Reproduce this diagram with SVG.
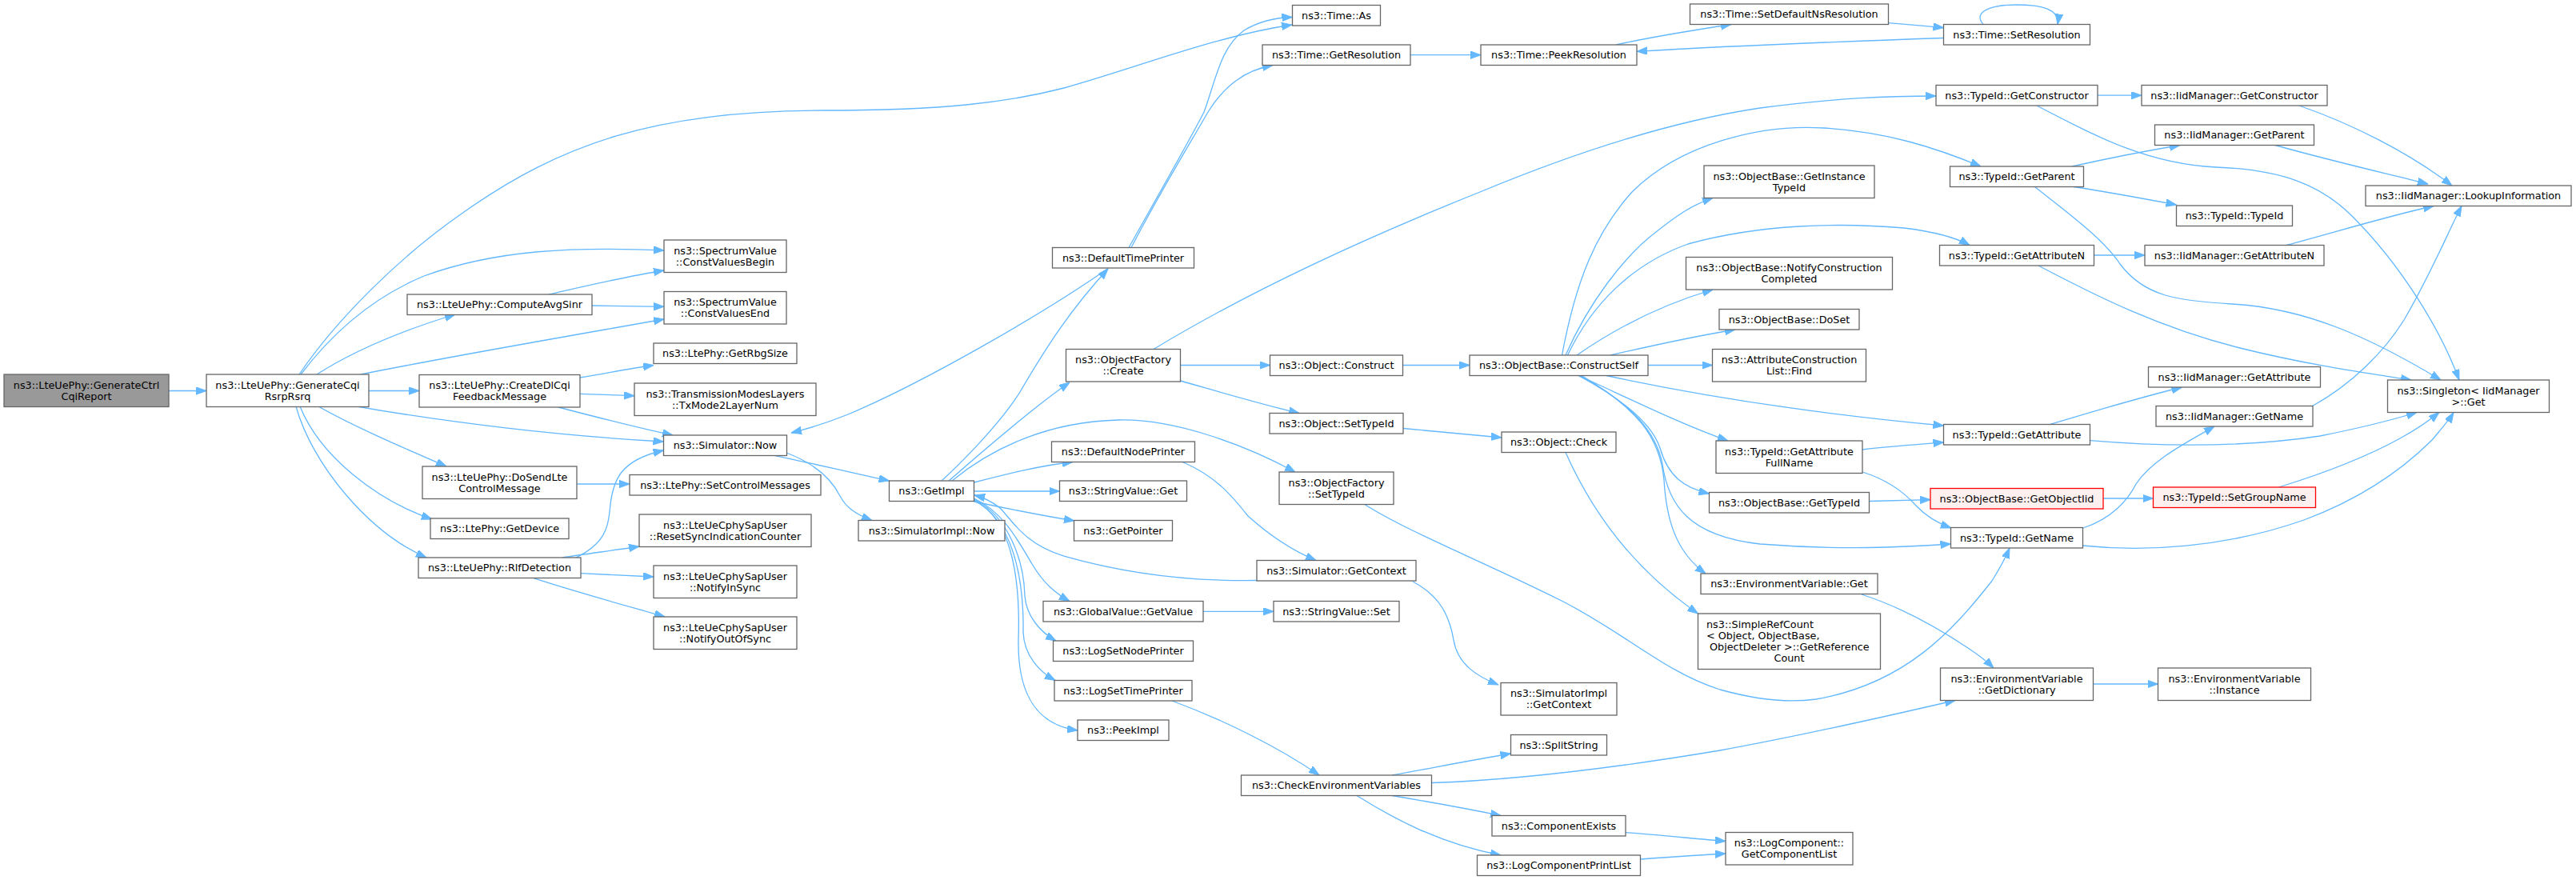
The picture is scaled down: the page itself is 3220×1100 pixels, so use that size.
<svg xmlns="http://www.w3.org/2000/svg" width="3220" height="1100" viewBox="0 0 3220 1100">
<defs>
<style>
.node rect{fill:#ffffff;stroke:#666666;stroke-width:1.3}
.root rect{fill:#999999}
.red rect{fill:#fff0f0;stroke:#ff0000}
text{font-family:"DejaVu Sans","Liberation Sans",sans-serif;font-size:12.8px;text-anchor:middle;fill:#000000}
text.l{text-anchor:start}
#edges path{fill:none;stroke:#63b8ff;stroke-width:1.3;marker-end:url(#ah)}
</style>
<marker id="ah" markerWidth="13" markerHeight="10" refX="13" refY="4.7" orient="auto" markerUnits="userSpaceOnUse">
<path d="M0,0 L13,4.7 L0,9.4 z" fill="#63b8ff" stroke="#63b8ff" stroke-width="1"/>
</marker>
</defs>
<rect x="0" y="0" width="3220" height="1100" fill="#ffffff"/>
<g id="edges">
<path d="M211,488.5 L258,488.5"/>
<path d="M374,468 C420,400 500,320 580,265 C700,180 820,138 1030,138 C1180,138 1260,128 1330,110 C1420,85 1520,45 1615,31"/>
<path d="M376,468 C420,410 470,370 530,345 C620,312 720,308 830,313"/>
<path d="M396,468 C440,440 500,414 569,393"/>
<path d="M451,468 C560,446 700,422 830,399"/>
<path d="M461,488.5 L524,488.5"/>
<path d="M446,508 C560,528 700,545 829.5,552"/>
<path d="M398,508 C440,532 500,558 558,583"/>
<path d="M375,508 C400,570 470,625 540,649"/>
<path d="M370,508 C390,580 460,665 533,697"/>
<path d="M686,368 C730,358 780,346 830,338"/>
<path d="M740,382 C770,382.5 800,383 830,383.3"/>
<path d="M724.5,472 C755,467 786,461 817,456.5"/>
<path d="M725,492.3 L793,494.7"/>
<path d="M698,509 C740,520 790,533 841,544"/>
<path d="M721,605 L787,605"/>
<path d="M720,697 C755,680 760,660 762,640 C765,600 775,575 829.5,563"/>
<path d="M703,697 C735,692 767,688 799,683"/>
<path d="M726,716.7 C756,718 786,719.5 817,721"/>
<path d="M667,722.7 C720,740 775,755 831,771"/>
<path d="M968,569.3 C1010,578 1060,590 1111.5,601"/>
<path d="M983,566 C1020,580 1040,600 1050,620 C1058,635 1070,643 1090,650.5"/>
<path d="M1385,335.5 C1300,395 1150,480 1060,518 C1035,528 1010,536 989,541"/>
<path d="M1177,601 C1200,580 1250,530 1275,490 C1310,430 1340,385 1385,336"/>
<path d="M1186,601 C1210,580 1290,510 1337,478"/>
<path d="M1190,601 C1240,560 1310,527 1398,525 C1470,523 1560,558 1619,590"/>
<path d="M1217.6,603 C1260,592 1300,582 1341,577.5"/>
<path d="M1217.6,614 L1324.5,614"/>
<path d="M1217.6,627 C1260,636 1300,644 1343,651"/>
<path d="M1217.6,623 C1255,640 1275,680 1290,705 C1305,730 1320,742 1337,751.5"/>
<path d="M1217.6,624 C1260,645 1280,700 1281,745 C1283,770 1300,790 1320,801"/>
<path d="M1217.6,625 C1265,650 1280,720 1279,790 C1280,820 1300,840 1319,850.5"/>
<path d="M1217.6,626 C1270,650 1275,740 1273,800 C1272,860 1290,905 1347,913"/>
<path d="M1571,725.5 C1480,727 1400,715 1330,695 C1280,680 1265,650 1250,635 C1240,627 1230,622 1218,619"/>
<path d="M1477,577 C1520,595 1540,620 1560,645 C1590,672 1620,690 1645,700.5"/>
<path d="M1504,764.3 L1592,764.3"/>
<path d="M1465,876 C1530,900 1600,935 1649,969"/>
<path d="M1411,309.5 C1450,240 1490,170 1505,140 C1520,100 1525,60 1555,38 C1575,26 1595,22 1615.5,21.5"/>
<path d="M1414,309.5 C1450,240 1490,175 1510,140 C1530,108 1555,88 1591,81.5"/>
<path d="M1475.5,456.5 L1587.5,456.5"/>
<path d="M1475.5,476 C1525,490 1575,505 1624,516.5"/>
<path d="M1442,436.5 C1560,365 1700,300 1850,240 C1980,186 2100,150 2200,135 C2300,122 2360,120 2420,120"/>
<path d="M1753.5,456.5 L1837,456.5"/>
<path d="M1754,535.5 C1795,539 1836,543 1877,547"/>
<path d="M1705,630 C1760,665 1850,700 1950,750 C2030,790 2080,840 2150,862 C2200,876 2240,878 2270,874 C2380,855 2440,790 2490,726 C2500,710 2507,697 2512,685"/>
<path d="M1766,727 C1800,745 1812,770 1817,800 C1822,830 1845,845 1873,856"/>
<path d="M1740,969 C1790,960 1840,950 1888.5,942"/>
<path d="M1789.5,978.5 C1900,975 2030,958 2150,938 C2260,918 2360,895 2444,875.5"/>
<path d="M1740,994.5 C1785,1002 1830,1010 1876,1019.5"/>
<path d="M1696,994.5 C1740,1022 1800,1055 1876,1069"/>
<path d="M2032,1040.7 C2075,1044 2115,1048 2157,1051.5"/>
<path d="M2050.5,1074 C2085,1071.5 2120,1069 2157,1067"/>
<path d="M1763,68.7 L1851,68.7"/>
<path d="M2020,56 C2065,46 2115,38 2164,30.5"/>
<path d="M2360.5,28.6 C2385,30.5 2408,32.5 2429.5,34.6"/>
<path d="M2429.5,47.5 C2300,52 2150,58 2046,64.3"/>
<path d="M2479,30.5 C2465,14 2490,6 2521,6 C2553,6 2575,12 2572,30.5"/>
<path d="M1952.5,444 C1970,350 1995,290 2040,240 C2100,180 2200,155 2280,160 C2360,165 2420,185 2476,208"/>
<path d="M1957,444 C1985,380 2030,320 2070,290 C2095,270 2115,256 2141,247.5"/>
<path d="M1959.5,444 C1990,380 2040,330 2110,305 C2200,280 2300,278 2380,285 C2420,290 2445,297 2462,306.5"/>
<path d="M1971,444 C2020,410 2080,380 2141,362"/>
<path d="M2013,444 C2065,432 2115,421 2169,412"/>
<path d="M2060,456.5 L2140.5,456.5"/>
<path d="M2008,469.5 C2150,500 2300,520 2429.5,532"/>
<path d="M1973.5,469.5 C2030,495 2100,530 2160,551"/>
<path d="M1973,469.5 C2030,500 2065,530 2075,560 C2085,595 2105,610 2136.5,617"/>
<path d="M1975,469.5 C2040,505 2070,540 2078,580 C2085,630 2110,670 2200,680 C2300,688 2380,684 2438.5,680"/>
<path d="M1977,469.5 C2045,510 2075,545 2080,600 C2083,650 2095,690 2132,717"/>
<path d="M1957,565.5 C1990,640 2040,710 2122.5,767"/>
<path d="M2622,119.2 L2677,119.2"/>
<path d="M2546,132 C2610,165 2680,205 2770,209 C2850,212 2900,230 2940,270 C3000,330 3050,410 3074,475"/>
<path d="M2590,208 C2635,198 2680,189 2725,181.5"/>
<path d="M2592,233.5 C2635,240 2678,248 2720.5,256"/>
<path d="M2543.5,233.5 C2590,270 2630,300 2650,330 C2680,370 2720,376 2790,380 C2880,385 2960,420 3051,475"/>
<path d="M2618,319 L2681,319"/>
<path d="M2548,332 C2620,370 2700,410 2800,435 C2880,455 2950,465 3014,475"/>
<path d="M2874,132 C2940,155 3010,190 3065,232"/>
<path d="M2844,181.5 C2910,200 2975,215 3035,230"/>
<path d="M2858,306.5 C2920,290 2985,270 3042,257.5"/>
<path d="M2890.5,507.5 C2940,480 2980,440 3005,400 C3040,340 3060,290 3077,257.5"/>
<path d="M2562,530.5 C2615,515 2670,498 2727.5,484"/>
<path d="M2612.5,550.7 C2700,558 2800,560 2900,545 C2950,535 2990,525 3021,515.5"/>
<path d="M2604,660 C2640,648 2660,625 2670,605 C2690,575 2730,555 2768,533"/>
<path d="M2603.5,682 C2680,690 2780,685 2880,650 C2960,620 3010,580 3040,550 C3050,538 3060,527 3067,515.5"/>
<path d="M2848.5,609 C2910,590 2960,570 3000,548 C3020,537 3035,527 3049,515.5"/>
<path d="M2629,623 L2691.5,623"/>
<path d="M2336.5,626.5 L2413,624.6"/>
<path d="M2328,562 C2362,558 2396,555.5 2429.5,553"/>
<path d="M2328,590 C2360,600 2380,615 2395,632 C2410,648 2425,655 2439,660"/>
<path d="M2327,743 C2380,760 2430,790 2460,810 C2475,820 2485,828 2492,835"/>
<path d="M2616.5,855 L2697.5,855"/>
</g>
<g id="n_root" class="node root"><rect x="5" y="468" width="206" height="40.5"/><text x="108" y="485.75">ns3::LteUePhy::GenerateCtrl</text><text x="108" y="499.75">CqiReport</text></g>
<g id="n_gcqi" class="node"><rect x="258" y="468" width="203" height="40.5"/><text x="359.5" y="485.75">ns3::LteUePhy::GenerateCqi</text><text x="359.5" y="499.75">RsrpRsrq</text></g>
<g id="n_avg" class="node"><rect x="509" y="368" width="231" height="25.5"/><text x="624.5" y="385.25">ns3::LteUePhy::ComputeAvgSinr</text></g>
<g id="n_cdl" class="node"><rect x="524" y="468.5" width="201" height="40.5"/><text x="624.5" y="486.25">ns3::LteUePhy::CreateDlCqi</text><text x="624.5" y="500.25">FeedbackMessage</text></g>
<g id="n_dosend" class="node"><rect x="528" y="583" width="193" height="40.5"/><text x="624.5" y="600.75">ns3::LteUePhy::DoSendLte</text><text x="624.5" y="614.75">ControlMessage</text></g>
<g id="n_getdev" class="node"><rect x="538" y="648" width="173" height="25.5"/><text x="624.5" y="665.25">ns3::LtePhy::GetDevice</text></g>
<g id="n_rlf" class="node"><rect x="523" y="697" width="203" height="25.5"/><text x="624.5" y="714.25">ns3::LteUePhy::RlfDetection</text></g>
<g id="n_cvb" class="node"><rect x="830" y="300" width="153" height="40.5"/><text x="906.5" y="317.75">ns3::SpectrumValue</text><text x="906.5" y="331.75">::ConstValuesBegin</text></g>
<g id="n_cve" class="node"><rect x="830" y="364.5" width="153" height="40.5"/><text x="906.5" y="382.25">ns3::SpectrumValue</text><text x="906.5" y="396.25">::ConstValuesEnd</text></g>
<g id="n_rbg" class="node"><rect x="817" y="429" width="179" height="25.5"/><text x="906.5" y="446.25">ns3::LtePhy::GetRbgSize</text></g>
<g id="n_tx" class="node"><rect x="793" y="479" width="227" height="40.5"/><text x="906.5" y="496.75">ns3::TransmissionModesLayers</text><text x="906.5" y="510.75">::TxMode2LayerNum</text></g>
<g id="n_now" class="node"><rect x="829.5" y="544" width="154" height="25.5"/><text x="906.5" y="561.25">ns3::Simulator::Now</text></g>
<g id="n_setctrl" class="node"><rect x="787" y="593.5" width="239" height="25.5"/><text x="906.5" y="610.75">ns3::LtePhy::SetControlMessages</text></g>
<g id="n_reset" class="node"><rect x="799" y="643" width="215" height="40.5"/><text x="906.5" y="660.75">ns3::LteUeCphySapUser</text><text x="906.5" y="674.75">::ResetSyncIndicationCounter</text></g>
<g id="n_insync" class="node"><rect x="817" y="707" width="179" height="40.5"/><text x="906.5" y="724.75">ns3::LteUeCphySapUser</text><text x="906.5" y="738.75">::NotifyInSync</text></g>
<g id="n_outsync" class="node"><rect x="817" y="771" width="179" height="40.5"/><text x="906.5" y="788.75">ns3::LteUeCphySapUser</text><text x="906.5" y="802.75">::NotifyOutOfSync</text></g>
<g id="n_getimpl" class="node"><rect x="1111.5" y="601" width="106" height="25.5"/><text x="1164.5" y="618.25">ns3::GetImpl</text></g>
<g id="n_simimplnow" class="node"><rect x="1073" y="650.5" width="183" height="25.5"/><text x="1164.5" y="667.75">ns3::SimulatorImpl::Now</text></g>
<g id="n_dtp" class="node"><rect x="1315.5" y="309.5" width="177" height="25.5"/><text x="1404" y="326.75">ns3::DefaultTimePrinter</text></g>
<g id="n_ofc" class="node"><rect x="1332.5" y="436.5" width="143" height="40.5"/><text x="1404" y="454.25">ns3::ObjectFactory</text><text x="1404" y="468.25">::Create</text></g>
<g id="n_dnp" class="node"><rect x="1314.5" y="552" width="179" height="25.5"/><text x="1404" y="569.25">ns3::DefaultNodePrinter</text></g>
<g id="n_svget" class="node"><rect x="1324.5" y="601" width="159" height="25.5"/><text x="1404" y="618.25">ns3::StringValue::Get</text></g>
<g id="n_getptr" class="node"><rect x="1342.5" y="650.5" width="123" height="25.5"/><text x="1404" y="667.75">ns3::GetPointer</text></g>
<g id="n_gvget" class="node"><rect x="1304" y="751.5" width="200" height="25.5"/><text x="1404" y="768.75">ns3::GlobalValue::GetValue</text></g>
<g id="n_lsnp" class="node"><rect x="1316.5" y="801" width="175" height="25.5"/><text x="1404" y="818.25">ns3::LogSetNodePrinter</text></g>
<g id="n_lstp" class="node"><rect x="1318" y="850.5" width="172" height="25.5"/><text x="1404" y="867.75">ns3::LogSetTimePrinter</text></g>
<g id="n_peek" class="node"><rect x="1347" y="900" width="114" height="25.5"/><text x="1404" y="917.25">ns3::PeekImpl</text></g>
<g id="n_as" class="node"><rect x="1615.5" y="6.5" width="110" height="25.5"/><text x="1670.5" y="23.75">ns3::Time::As</text></g>
<g id="n_getres" class="node"><rect x="1578" y="56" width="185" height="25.5"/><text x="1670.5" y="73.25">ns3::Time::GetResolution</text></g>
<g id="n_oconst" class="node"><rect x="1587.5" y="444" width="166" height="25.5"/><text x="1670.5" y="461.25">ns3::Object::Construct</text></g>
<g id="n_osettid" class="node"><rect x="1587" y="516.5" width="167" height="25.5"/><text x="1670.5" y="533.75">ns3::Object::SetTypeId</text></g>
<g id="n_ofsettid" class="node"><rect x="1599" y="590" width="143" height="40.5"/><text x="1670.5" y="607.75">ns3::ObjectFactory</text><text x="1670.5" y="621.75">::SetTypeId</text></g>
<g id="n_getctx" class="node"><rect x="1571" y="700.5" width="199" height="25.5"/><text x="1670.5" y="717.75">ns3::Simulator::GetContext</text></g>
<g id="n_svset" class="node"><rect x="1592" y="751.5" width="157" height="25.5"/><text x="1670.5" y="768.75">ns3::StringValue::Set</text></g>
<g id="n_cev" class="node"><rect x="1551.5" y="969" width="238" height="25.5"/><text x="1670.5" y="986.25">ns3::CheckEnvironmentVariables</text></g>
<g id="n_peekres" class="node"><rect x="1851" y="56" width="195" height="25.5"/><text x="1948.5" y="73.25">ns3::Time::PeekResolution</text></g>
<g id="n_cs" class="node"><rect x="1837" y="444" width="223" height="25.5"/><text x="1948.5" y="461.25">ns3::ObjectBase::ConstructSelf</text></g>
<g id="n_ocheck" class="node"><rect x="1877" y="540" width="143" height="25.5"/><text x="1948.5" y="557.25">ns3::Object::Check</text></g>
<g id="n_sictx" class="node"><rect x="1876" y="853.5" width="145" height="40.5"/><text x="1948.5" y="871.25">ns3::SimulatorImpl</text><text x="1948.5" y="885.25">::GetContext</text></g>
<g id="n_split" class="node"><rect x="1888.5" y="918.5" width="120" height="25.5"/><text x="1948.5" y="935.75">ns3::SplitString</text></g>
<g id="n_cexists" class="node"><rect x="1865" y="1019.5" width="167" height="25.5"/><text x="1948.5" y="1036.75">ns3::ComponentExists</text></g>
<g id="n_lcpl" class="node"><rect x="1846.5" y="1069" width="204" height="25.5"/><text x="1948.5" y="1086.25">ns3::LogComponentPrintList</text></g>
<g id="n_sdnr" class="node"><rect x="2112.5" y="5" width="248" height="25.5"/><text x="2236.5" y="22.25">ns3::Time::SetDefaultNsResolution</text></g>
<g id="n_git" class="node"><rect x="2130" y="207" width="213" height="40.5"/><text x="2236.5" y="224.75">ns3::ObjectBase::GetInstance</text><text x="2236.5" y="238.75">TypeId</text></g>
<g id="n_ncc" class="node"><rect x="2107.5" y="321.5" width="258" height="40.5"/><text x="2236.5" y="339.25">ns3::ObjectBase::NotifyConstruction</text><text x="2236.5" y="353.25">Completed</text></g>
<g id="n_doset" class="node"><rect x="2149" y="386.5" width="175" height="25.5"/><text x="2236.5" y="403.75">ns3::ObjectBase::DoSet</text></g>
<g id="n_aclf" class="node"><rect x="2140.5" y="436.5" width="192" height="40.5"/><text x="2236.5" y="454.25">ns3::AttributeConstruction</text><text x="2236.5" y="468.25">List::Find</text></g>
<g id="n_gafn" class="node"><rect x="2145" y="551" width="183" height="40.5"/><text x="2236.5" y="568.75">ns3::TypeId::GetAttribute</text><text x="2236.5" y="582.75">FullName</text></g>
<g id="n_obgtid" class="node"><rect x="2136.5" y="615.5" width="200" height="25.5"/><text x="2236.5" y="632.75">ns3::ObjectBase::GetTypeId</text></g>
<g id="n_evget" class="node"><rect x="2126" y="717" width="221" height="25.5"/><text x="2236.5" y="734.25">ns3::EnvironmentVariable::Get</text></g>
<g id="n_src" class="node"><rect x="2122.5" y="767" width="228" height="69.5"/><text class="l" x="2133" y="785.25">ns3::SimpleRefCount</text><text class="l" x="2133" y="799.25">&lt; Object, ObjectBase,</text><text class="l" x="2137" y="813.25">ObjectDeleter &gt;::GetReference</text><text x="2236.5" y="827.25">Count</text></g>
<g id="n_lcgcl" class="node"><rect x="2157" y="1040.5" width="159" height="40.5"/><text x="2236.5" y="1058.25">ns3::LogComponent::</text><text x="2236.5" y="1072.25">GetComponentList</text></g>
<g id="n_setres" class="node"><rect x="2429.5" y="30.5" width="183" height="25.5"/><text x="2521" y="47.75">ns3::Time::SetResolution</text></g>
<g id="n_tgc" class="node"><rect x="2420" y="106.5" width="202" height="25.5"/><text x="2521" y="123.75">ns3::TypeId::GetConstructor</text></g>
<g id="n_tgp" class="node"><rect x="2437.5" y="208" width="167" height="25.5"/><text x="2521" y="225.25">ns3::TypeId::GetParent</text></g>
<g id="n_tgan" class="node"><rect x="2424.5" y="306.5" width="193" height="25.5"/><text x="2521" y="323.75">ns3::TypeId::GetAttributeN</text></g>
<g id="n_tga" class="node"><rect x="2429.5" y="530.5" width="183" height="25.5"/><text x="2521" y="547.75">ns3::TypeId::GetAttribute</text></g>
<g id="n_goi" class="node red"><rect x="2413" y="610.5" width="216" height="25.5"/><text x="2521" y="627.75">ns3::ObjectBase::GetObjectIid</text></g>
<g id="n_tgn" class="node"><rect x="2438.5" y="659.5" width="165" height="25.5"/><text x="2521" y="676.75">ns3::TypeId::GetName</text></g>
<g id="n_evgd" class="node"><rect x="2425.5" y="835" width="191" height="40.5"/><text x="2521" y="852.75">ns3::EnvironmentVariable</text><text x="2521" y="866.75">::GetDictionary</text></g>
<g id="n_igc" class="node"><rect x="2677" y="106.5" width="232" height="25.5"/><text x="2793" y="123.75">ns3::IidManager::GetConstructor</text></g>
<g id="n_igp" class="node"><rect x="2693.5" y="156" width="199" height="25.5"/><text x="2793" y="173.25">ns3::IidManager::GetParent</text></g>
<g id="n_ttid" class="node"><rect x="2720.5" y="257" width="145" height="25.5"/><text x="2793" y="274.25">ns3::TypeId::TypeId</text></g>
<g id="n_igan" class="node"><rect x="2681" y="306.5" width="224" height="25.5"/><text x="2793" y="323.75">ns3::IidManager::GetAttributeN</text></g>
<g id="n_iga" class="node"><rect x="2685.5" y="458.5" width="215" height="25.5"/><text x="2793" y="475.75">ns3::IidManager::GetAttribute</text></g>
<g id="n_ign" class="node"><rect x="2695" y="507.5" width="196" height="25.5"/><text x="2793" y="524.75">ns3::IidManager::GetName</text></g>
<g id="n_sgn" class="node red"><rect x="2691.5" y="609" width="203" height="25.5"/><text x="2793" y="626.25">ns3::TypeId::SetGroupName</text></g>
<g id="n_evinst" class="node"><rect x="2697.5" y="835" width="191" height="40.5"/><text x="2793" y="852.75">ns3::EnvironmentVariable</text><text x="2793" y="866.75">::Instance</text></g>
<g id="n_lookup" class="node"><rect x="2957" y="232" width="257" height="25.5"/><text x="3085.5" y="249.25">ns3::IidManager::LookupInformation</text></g>
<g id="n_single" class="node"><rect x="2984.5" y="475" width="202" height="40.5"/><text x="3085.5" y="492.75">ns3::Singleton&lt; IidManager</text><text x="3085.5" y="506.75">&gt;::Get</text></g>
</svg>
